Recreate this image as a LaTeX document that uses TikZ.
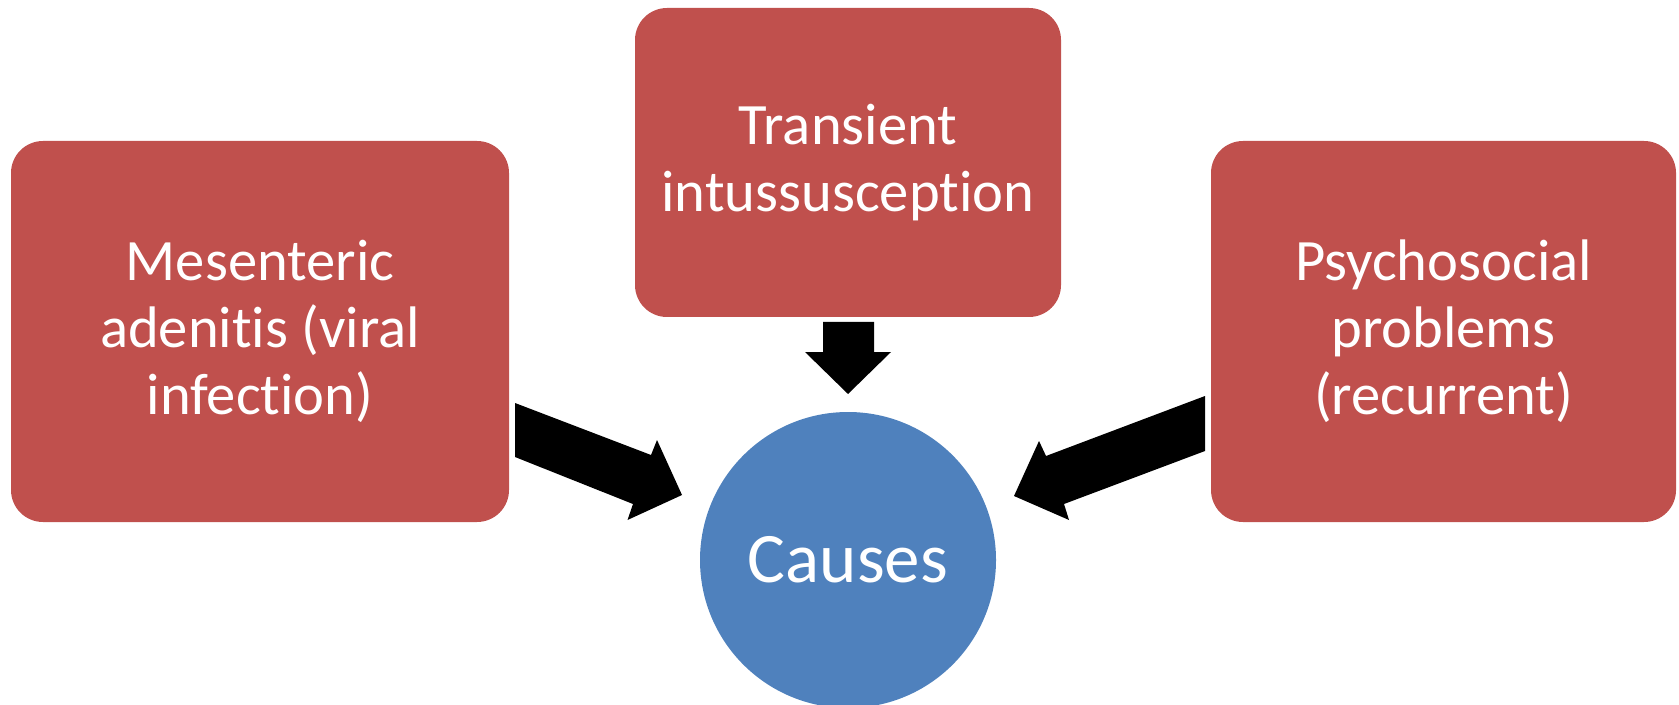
\documentclass[tikz,border=0pt]{standalone}
\usepackage{fontspec}
\setmainfont{Carlito}[Ligatures={NoCommon,NoDiscretionary,NoRare,NoContextual}]
\definecolor{boxred}{HTML}{C0504D}
\definecolor{circblue}{HTML}{4F81BD}
\tikzset{
  causebox/.style={rectangle, rounded corners=16pt, fill=boxred, draw=none,
    inner sep=0pt, text=white, align=center,
    font=\fontsize{29.3}{33.5}\selectfont},
  centre/.style={circle, fill=circblue, draw=none, inner sep=0pt,
    minimum size=148pt, text=white, font=\fontsize{35.5}{42}\selectfont},
  blockarrow/.style={fill=black, draw=none}
}
\begin{document}
\begin{tikzpicture}[x=0.5pt,y=-0.5pt]
\useasboundingbox (0,0) rectangle (1679,705);
\node[causebox, minimum width=249pt, minimum height=190.5pt] (left) at (260,331.5)
  {Mesenteric\\adenitis (viral\\infection)};
\node[causebox, minimum width=213pt, minimum height=154.5pt] (mid) at (848,162.5)
  {Transient\\intussusception};
\node[causebox, minimum width=232.5pt, minimum height=190.5pt] (right) at (1443.5,331.5)
  {Psychosocial\\problems\\(recurrent)};
\node[centre] (causes) at (848,560) {Causes};
% block arrows
\fill[blockarrow] (823,322) -- (874,322) -- (874,352) -- (891,352) -- (848,394)
  -- (805,352) -- (823,352) -- cycle;
\fill[blockarrow] (515,403) -- (651,455) -- (657,440) -- (682,495) -- (627.5,520)
  -- (633,504) -- (515,457) -- cycle;
\fill[blockarrow] (1205,396) -- (1046,456) -- (1039,441) -- (1014,496) -- (1069,520)
  -- (1064,504) -- (1205,451) -- cycle;
\end{tikzpicture}
\end{document}
